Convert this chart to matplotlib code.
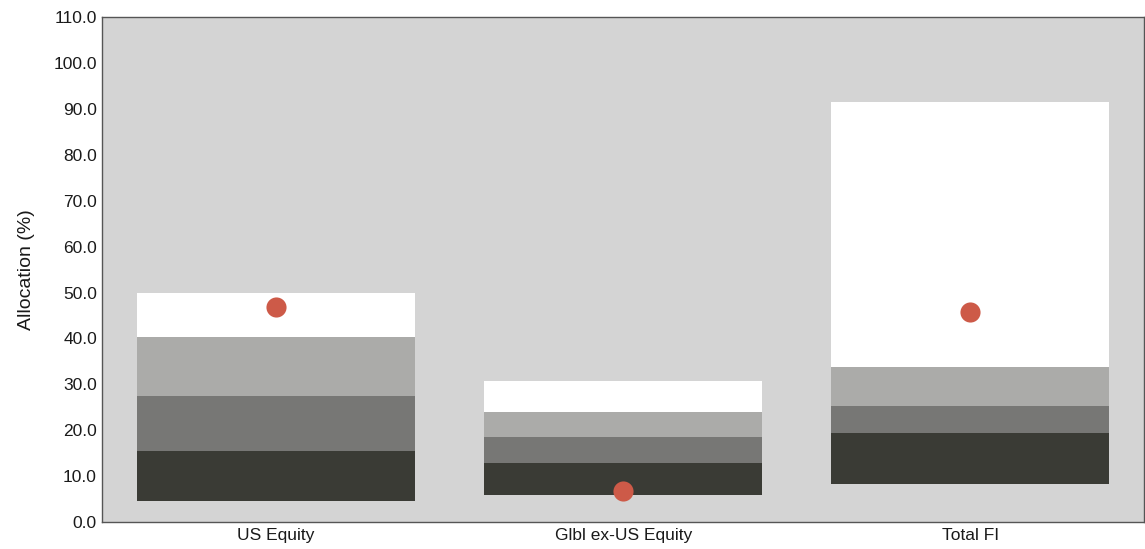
import numpy as np
import matplotlib.pyplot as plt

plt.rcParams['font.family'] = ['Liberation Sans', 'DejaVu Sans']

# percentile bands per asset class (bottom -> top)
categories = ['US Equity', 'Glbl ex-US Equity', 'Total FI']
p05 = [4.5, 5.8, 8.2]
p25 = [15.4, 12.9, 19.4]
p50 = [27.4, 18.6, 25.2]
p75 = [40.4, 23.9, 33.7]
p95 = [49.8, 30.7, 91.6]
portfolio = [46.9, 6.8, 45.7]

band_colors = ['#3a3b35', '#777775', '#ababa9', '#ffffff']

fig = plt.figure(figsize=(11.45, 5.49), dpi=100)
ax = fig.add_axes([0.0895, 0.049, 0.9095, 0.920])
ax.set_facecolor('#d4d4d4')

x = np.arange(len(categories))
levels = [p05, p25, p50, p75, p95]
for i in range(4):
    lo = np.array(levels[i])
    hi = np.array(levels[i + 1])
    ax.bar(x, hi - lo, bottom=lo, width=0.8, color=band_colors[i],
           edgecolor='none', zorder=2)

ax.scatter(x, portfolio, s=210, color='#cd5a48', zorder=3, linewidths=0)

ax.set_xlim(-0.5, 2.5)
ax.set_ylim(0, 110)
ax.set_yticks(np.arange(0, 111, 10))
ax.set_yticklabels([f'{v:.1f}' for v in np.arange(0, 111, 10)])
ax.set_xticks(x)
ax.set_xticklabels(categories)
ax.tick_params(length=0, labelsize=12.5, colors='#1a1a1a', pad=4)
ax.set_ylabel('Allocation (%)', fontsize=14, color='#1a1a1a', labelpad=13)
for s in ax.spines.values():
    s.set_color('#555555')
    s.set_linewidth(1.0)

fig.savefig('out.png', dpi=100)
